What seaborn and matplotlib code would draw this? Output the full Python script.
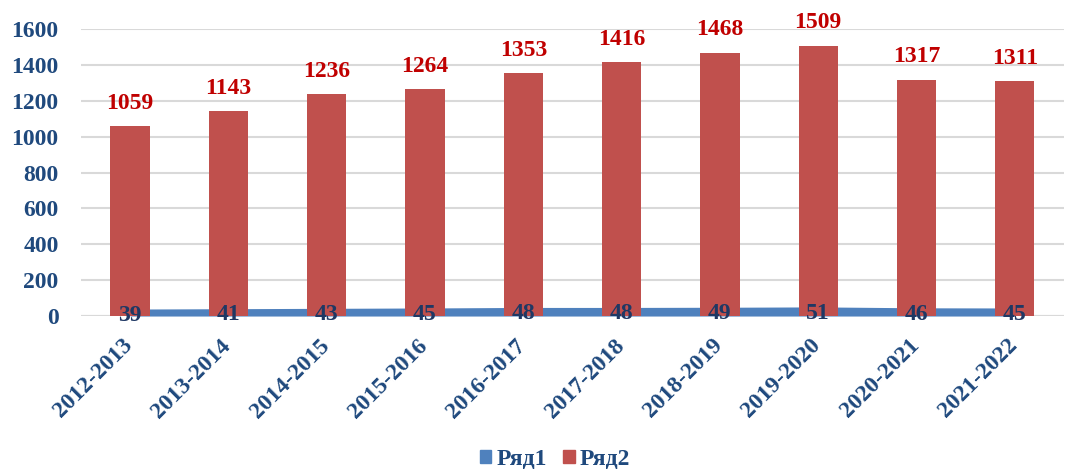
import numpy as np
import pandas as pd
import matplotlib
matplotlib.use('Agg')
import matplotlib.pyplot as plt
import matplotlib.transforms as mtransforms
import seaborn as sns
from matplotlib.patches import Patch

years = ['2012-2013', '2013-2014', '2014-2015', '2015-2016', '2016-2017',
         '2017-2018', '2018-2019', '2019-2020', '2020-2021', '2021-2022']
row1 = [39, 41, 43, 45, 48, 48, 49, 51, 46, 45]
row2 = [1059, 1143, 1236, 1264, 1353, 1416, 1468, 1509, 1317, 1311]
yticks = [0, 200, 400, 600, 800, 1000, 1200, 1400, 1600]

blue = '#4F81BD'
red = '#C0504D'
axis_col = '#1F497D'

sns.set_theme(style='white')
plt.rcParams['font.family'] = ['Liberation Serif', 'DejaVu Serif']
plt.rcParams['font.weight'] = 'bold'

df = pd.DataFrame({'year': years, 'row2': row2})

fig = plt.figure(figsize=(10.65, 4.71), dpi=100)
ax = fig.add_axes([0.076, 0.329, 0.923, 0.609])

x = np.arange(len(years))
ax.fill_between(x, 0, row1, color=blue, zorder=2, linewidth=0)
sns.barplot(data=df, x='year', y='row2', color=red, width=0.4,
            saturation=1, linewidth=0, ax=ax, zorder=3)

for xi, v in zip(x, row2):
    ax.annotate(str(v), (xi, v), xytext=(0, 9), textcoords='offset points',
                ha='center', va='bottom', fontsize=17, fontweight='bold',
                color='#C00000', zorder=5)
for xi, v in zip(x, row1):
    ax.annotate(str(v), (xi, v), xytext=(0, -4.5), textcoords='offset points',
                ha='center', va='center', fontsize=17, fontweight='bold',
                color='#1F3864', zorder=5)

ax.set_ylim(0, 1600)
ax.set_xlim(-0.5, len(years) - 0.5)
ax.set_yticks(yticks)
ax.yaxis.grid(True, color='#D9D9D9', linewidth=1.5, zorder=0)
ax.set_axisbelow(True)
for s in ax.spines.values():
    s.set_visible(False)
ax.axhline(0, color='#D9D9D9', linewidth=1.5, zorder=1)
ax.set_xlabel('')
ax.set_ylabel('')
ax.tick_params(axis='y', length=0, pad=16, labelsize=17, labelcolor=axis_col)
ax.tick_params(axis='x', length=0, pad=10, labelsize=17, labelcolor=axis_col)
ax.set_xticks(x)
ax.set_xticklabels(years, rotation=45, ha='right', rotation_mode='anchor',
                   fontweight='bold')
shift = mtransforms.ScaledTranslation(-8 / 100, -5 / 100, fig.dpi_scale_trans)
for lab in ax.get_xticklabels():
    lab.set_transform(lab.get_transform() + shift)
for lab in ax.get_yticklabels():
    lab.set_fontweight('bold')

handles = [Patch(color=blue, label='Ряд1'), Patch(color=red, label='Ряд2')]
leg = fig.legend(handles=handles, loc='center', ncol=2, frameon=False,
                 bbox_to_anchor=(0.521, 0.025), handlelength=0.5, handleheight=0.5,
                 handletextpad=0.2, columnspacing=0.7, borderpad=0.1,
                 prop={'size': 17, 'weight': 'bold'})
for t in leg.get_texts():
    t.set_color(axis_col)

fig.savefig('out.png', dpi=100)
